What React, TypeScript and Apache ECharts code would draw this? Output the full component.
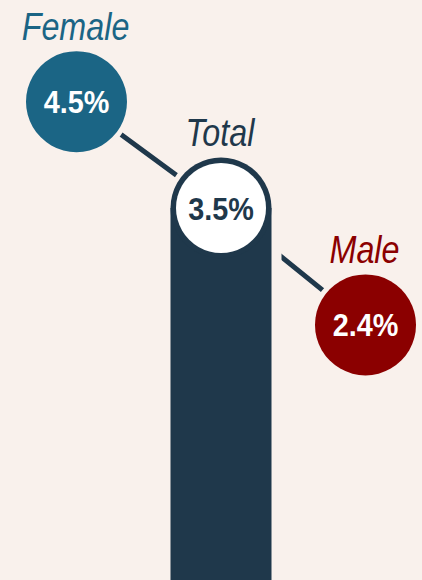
import React, { useEffect, useRef } from "react";
import * as echarts from "echarts";

const categories = ["Female", "Total", "Male"];
const values = [4.5, 3.5, 2.4];
const valueLabels = ["4.5%", "3.5%", "2.4%"];
const totalOnly = ["-", 3.5, "-"];

const BG = "#f9f1ec";
const NAVY = "#1f384b";
const TEAL = "#1b6585";
const RED = "#8b0000";
const colors = [TEAL, NAVY, RED];
const valueColors = ["#ffffff", NAVY, "#ffffff"];
const FONT = "'Liberation Sans', Arial, sans-serif";

export default function App() {
  const ref = useRef<HTMLDivElement>(null);
  useEffect(() => {
    if (!ref.current) return;
    const chart = echarts.init(ref.current, undefined, { renderer: "svg" });
    chart.setOption({
      animation: false,
      backgroundColor: BG,
      grid: {
        left: 4.25,
        width: 433.5,
        top: -4.65,
        height: 584.65,
        outerBoundsMode: "none",
        containLabel: false,
      },
      xAxis: {
        type: "category",
        data: categories,
        show: false,
        boundaryGap: true,
      },
      yAxis: { type: "value", min: 0, max: 5.5, show: false },
      series: [
        {
          type: "line",
          data: values,
          symbol: "none",
          lineStyle: { color: NAVY, width: 5 },
          z: 1,
          silent: true,
        },
        {
          type: "bar",
          data: totalOnly,
          barWidth: 111,
          barGap: "-100%",
          itemStyle: { color: BG },
          z: 2,
          silent: true,
        },
        {
          type: "bar",
          data: totalOnly,
          barWidth: 101,
          barGap: "-100%",
          itemStyle: { color: NAVY },
          z: 3,
          silent: true,
        },
        {
          type: "scatter",
          data: values,
          symbolSize: 111,
          itemStyle: { color: BG, opacity: 1 },
          z: 2,
          silent: true,
        },
        {
          type: "scatter",
          data: values.map((v, i) => ({
            value: v,
            itemStyle: { color: colors[i], opacity: 1 },
          })),
          symbolSize: 101,
          z: 4,
          silent: true,
        },
        {
          type: "scatter",
          data: totalOnly,
          symbolSize: 90,
          itemStyle: { color: "#ffffff", opacity: 1 },
          z: 5,
          silent: true,
        },
        {
          type: "custom",
          data: values.map((v, i) => [i, v]),
          z: 6,
          silent: true,
          renderItem: (params: any, api: any) => {
            const i = params.dataIndex;
            const pt = api.coord([api.value(0), api.value(1)]);
            return {
              type: "group",
              children: [
                {
                  type: "text",
                  x: pt[0] - 1,
                  y: pt[1] - 75,
                  scaleX: 0.85,
                  scaleY: 1,
                  style: {
                    text: categories[i],
                    x: 0,
                    y: 0,
                    fill: colors[i],
                    font: "italic 38px " + FONT,
                    align: "center",
                    verticalAlign: "middle",
                  },
                },
                {
                  type: "text",
                  x: pt[0],
                  y: pt[1],
                  scaleX: 0.9,
                  scaleY: 1,
                  style: {
                    text: valueLabels[i],
                    x: 0,
                    y: 0,
                    fill: valueColors[i],
                    font: "bold 32px " + FONT,
                    align: "center",
                    verticalAlign: "middle",
                  },
                },
              ],
            };
          },
        },
      ],
    });
    return () => chart.dispose();
  }, []);
  return (
    <div
      ref={ref}
      style={{ position: "absolute", left: 0, top: 0, width: 422, height: 580, background: BG }}
    />
  );
}
